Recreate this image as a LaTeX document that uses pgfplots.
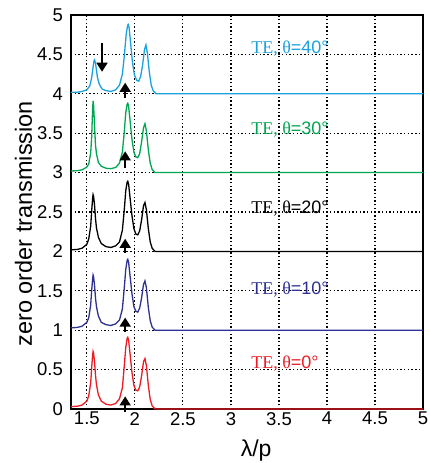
\documentclass[border=0pt]{standalone}
\usepackage{fontspec}
\setmainfont{Liberation Sans}
\newfontfamily\timesf{Liberation Serif}
\usepackage{pgfplots}
\pgfplotsset{compat=1.18}
\usetikzlibrary{arrows.meta}

\definecolor{cforty}{RGB}{27,161,222}
\definecolor{cthirty}{RGB}{0,166,81}
\definecolor{cten}{RGB}{46,49,146}
\definecolor{czero}{RGB}{237,28,36}

\newcommand{\lab}[1]{{\timesf TE, θ}=#1°}
\tikzset{
    arr/.style={black, line width=1.6pt, -{Triangle[width=11pt,length=9pt]}},
    lbl/.style={anchor=west, inner sep=0pt, font=\fontsize{18}{20}\selectfont},
}

\begin{document}
\begin{tikzpicture}
\begin{axis}[
    at={(0,0)}, anchor=south west,
    scale only axis,
    width=352pt, height=394pt,
    xmin=1.335, xmax=5, ymin=0, ymax=5,
    xtick={1.5,2,2.5,3,3.5,4,4.5,5},
    ytick={0,0.5,1,1.5,2,2.5,3,3.5,4,4.5,5},
    xmajorgrids=true, ymajorgrids=true,
    grid style={black, line width=1.2pt, dash pattern=on 1.4pt off 2.3pt},
    major tick length=0pt,
    axis line style={line width=1.2pt},
    /pgf/number format/assume math mode=true,
    ticklabel style={font=\fontsize{18.5}{22}\selectfont},
    xticklabel style={inner sep=0pt, yshift=-3pt},
    yticklabel style={inner sep=0pt, xshift=-8pt},
    xlabel={λ/p},
    xlabel style={font=\fontsize{23}{26}\selectfont, at={(axis description cs:0.526,0)}, anchor=north, inner sep=0pt, yshift=-31pt},
    ylabel={zero order transmission},
    ylabel style={font=\fontsize{23.5}{27}\selectfont, at={(axis description cs:-0.135,0.47)}, anchor=center},
    clip=false,
    every axis plot/.append style={line width=1.3pt},
]
% TE, theta=0
\addplot[czero] coordinates {
(1.335,0.03) (1.40,0.035) (1.45,0.05) (1.50,0.10) (1.52,0.17) (1.54,0.33) (1.55,0.52) (1.56,0.68) (1.565,0.73) (1.57,0.71) (1.58,0.60) (1.59,0.43) (1.60,0.31) (1.62,0.18) (1.65,0.10) (1.70,0.06) (1.75,0.05) (1.80,0.07) (1.84,0.13) (1.87,0.27) (1.89,0.55) (1.905,0.78) (1.92,0.90) (1.926,0.91) (1.935,0.87) (1.95,0.70) (1.97,0.46) (1.99,0.30) (2.01,0.24) (2.03,0.23) (2.05,0.28) (2.07,0.42) (2.09,0.60) (2.105,0.64) (2.12,0.55) (2.14,0.30) (2.16,0.12) (2.18,0.04) (2.21,0) (5.0,0)
};
% TE, theta=10
\addplot[cten] coordinates {
(1.335,1.03) (1.40,1.035) (1.45,1.05) (1.50,1.10) (1.52,1.16) (1.54,1.32) (1.55,1.50) (1.56,1.65) (1.565,1.70) (1.57,1.68) (1.58,1.57) (1.59,1.41) (1.60,1.30) (1.62,1.18) (1.65,1.10) (1.70,1.07) (1.75,1.06) (1.80,1.08) (1.84,1.13) (1.87,1.27) (1.89,1.54) (1.905,1.77) (1.92,1.89) (1.926,1.90) (1.935,1.86) (1.95,1.69) (1.97,1.46) (1.99,1.30) (2.01,1.24) (2.03,1.23) (2.05,1.28) (2.07,1.41) (2.09,1.58) (2.105,1.625) (2.12,1.54) (2.14,1.29) (2.16,1.12) (2.18,1.04) (2.21,1.0) (5.0,1.0)
};
% TE, theta=20
\addplot[black] coordinates {
(1.335,2.02) (1.40,2.025) (1.45,2.04) (1.50,2.09) (1.52,2.16) (1.54,2.32) (1.55,2.51) (1.56,2.67) (1.565,2.72) (1.57,2.70) (1.58,2.59) (1.59,2.42) (1.60,2.30) (1.62,2.18) (1.65,2.10) (1.70,2.06) (1.75,2.05) (1.80,2.07) (1.84,2.12) (1.87,2.27) (1.89,2.53) (1.905,2.77) (1.92,2.88) (1.926,2.89) (1.935,2.85) (1.95,2.68) (1.97,2.45) (1.99,2.29) (2.01,2.22) (2.03,2.21) (2.05,2.26) (2.07,2.40) (2.09,2.58) (2.105,2.62) (2.12,2.53) (2.14,2.29) (2.16,2.12) (2.18,2.04) (2.21,2.0) (5.0,2.0)
};
% TE, theta=30
\addplot[cthirty] coordinates {
(1.335,3.02) (1.40,3.025) (1.45,3.035) (1.50,3.07) (1.52,3.11) (1.54,3.25) (1.55,3.45) (1.56,3.80) (1.565,3.91) (1.57,3.86) (1.58,3.60) (1.59,3.35) (1.60,3.24) (1.62,3.13) (1.65,3.08) (1.70,3.055) (1.75,3.05) (1.80,3.065) (1.84,3.12) (1.87,3.26) (1.89,3.52) (1.905,3.76) (1.92,3.87) (1.926,3.88) (1.935,3.84) (1.95,3.66) (1.97,3.42) (1.99,3.26) (2.01,3.20) (2.03,3.19) (2.05,3.24) (2.07,3.39) (2.09,3.57) (2.105,3.62) (2.12,3.53) (2.14,3.29) (2.16,3.12) (2.18,3.04) (2.21,3.0) (5.0,3.0)
};
% TE, theta=40
\addplot[cforty] coordinates {
(1.335,4.02) (1.40,4.02) (1.45,4.03) (1.50,4.05) (1.53,4.10) (1.55,4.20) (1.565,4.34) (1.575,4.42) (1.58,4.43) (1.59,4.39) (1.60,4.30) (1.61,4.21) (1.63,4.12) (1.66,4.06) (1.70,4.04) (1.75,4.03) (1.80,4.05) (1.84,4.11) (1.87,4.25) (1.89,4.48) (1.91,4.76) (1.925,4.87) (1.93,4.88) (1.94,4.84) (1.955,4.65) (1.975,4.40) (1.995,4.24) (2.02,4.17) (2.04,4.16) (2.06,4.22) (2.08,4.36) (2.10,4.56) (2.115,4.62) (2.13,4.52) (2.15,4.28) (2.17,4.11) (2.19,4.04) (2.22,4.0) (5.0,4.0)
};
% arrows
\addplot[arr] coordinates {(1.899,-0.04) (1.899,0.16)};
\addplot[arr] coordinates {(1.899,0.98) (1.899,1.16)};
\addplot[arr] coordinates {(1.899,1.98) (1.899,2.16)};
\addplot[arr] coordinates {(1.899,3.06) (1.899,3.27)};
\addplot[arr] coordinates {(1.899,3.95) (1.899,4.14)};
\addplot[arr] coordinates {(1.658,4.64) (1.658,4.28)};
% labels
\node[lbl, text=cforty] at (axis cs:3.21,4.57) {\lab{40}};
\node[lbl, text=cthirty] at (axis cs:3.21,3.55) {\lab{30}};
\node[lbl, text=black] at (axis cs:3.21,2.54) {\lab{20}};
\node[lbl, text=cten] at (axis cs:3.21,1.51) {\lab{10}};
\node[lbl, text=czero] at (axis cs:3.21,0.58) {\lab{0}};
\end{axis}
\pgfresetboundingbox
\path[use as bounding box] (-71pt,-54pt) rectangle (358pt,409pt);
\end{tikzpicture}
\end{document}
